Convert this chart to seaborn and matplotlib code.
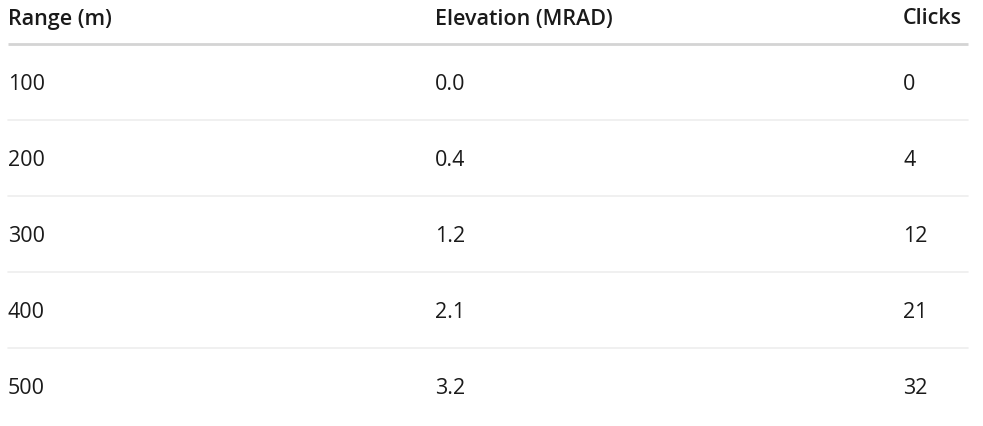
import matplotlib.pyplot as plt
import seaborn as sns

# table data
headers = ["Range (m)", "Elevation (MRAD)", "Clicks"]
ranges = [100, 200, 300, 400, 500]
elevation = ["0.0", "0.4", "1.2", "2.1", "3.2"]
clicks = [0, 4, 12, 21, 32]

sns.set_theme(style="white")
plt.rcParams['font.family'] = ['Open Sans', 'DejaVu Sans']

fig = plt.figure(figsize=(9.83, 4.26), dpi=100)
ax = fig.add_axes([0, 0, 1, 1])
ax.set_xlim(0, 983)
ax.set_ylim(426, 0)
ax.axis("off")

col_x = [8, 435, 903]
for x, h in zip(col_x, headers):
    ax.text(x, 19, h, fontsize=15.5, fontweight="semibold", color="#1a1a1a", va="center")
ax.plot([8, 968], [44, 44], color="#d4d4d4", lw=2, solid_capstyle="butt")

row_h = 76
for i, (r, e, c) in enumerate(zip(ranges, elevation, clicks)):
    y = 84 + i * row_h
    for x, v in zip(col_x, [r, e, c]):
        ax.text(x, y, str(v), fontsize=15.5, color="#1a1a1a", va="center")
    if i < len(ranges) - 1:
        ax.plot([8, 968], [y + 36, y + 36], color="#ededed", lw=1.2)

fig.savefig("out.png", dpi=100)
